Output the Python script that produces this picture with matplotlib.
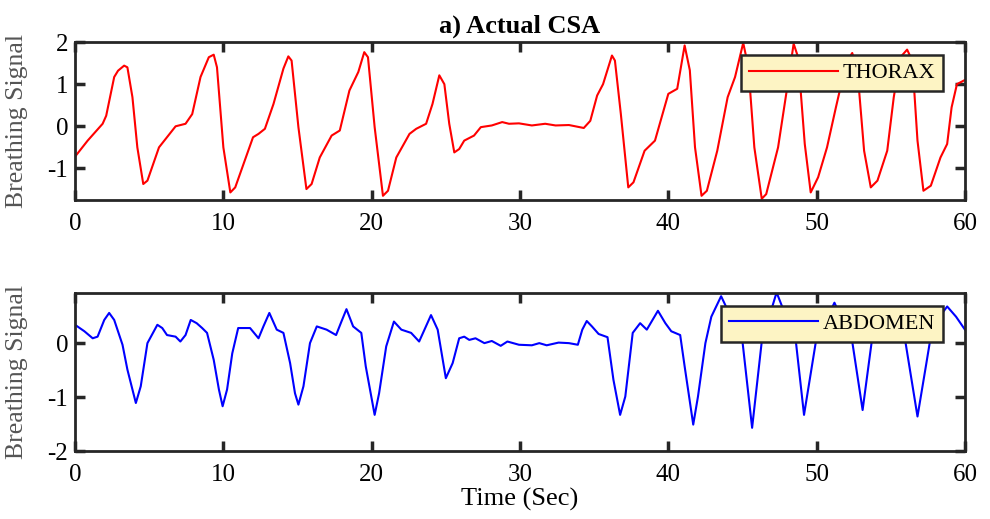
import matplotlib
matplotlib.use("Agg")
import matplotlib.pyplot as plt

# (time in seconds, signal in a.u.)
thorax_t = [0.0, 0.85, 1.86, 2.1, 2.64, 2.9, 3.31, 3.53, 3.87, 4.2, 4.6, 4.88, 5.66,
            6.78, 7.45, 7.9, 8.46, 9.02, 9.35, 9.57, 10.0, 10.47, 10.8, 12.0,
            12.37, 12.8, 13.38, 14.05, 14.38, 14.6, 15.06, 15.6, 15.95, 16.5,
            17.3, 17.85, 18.5, 19.1, 19.5, 19.75, 20.2, 20.76, 21.1, 21.66,
            22.55, 23.0, 23.67, 24.1, 24.56, 24.9, 25.23, 25.57, 25.9, 26.24,
            26.9, 27.36, 28.1, 28.8, 29.26, 29.93, 30.8, 31.7, 32.4, 33.3,
            34.3, 34.74, 35.2, 35.6, 36.2, 36.4, 36.8, 37.3, 37.65, 38.4,
            39.1, 40.0, 40.6, 41.1, 41.45, 41.8, 42.24, 42.6, 43.3, 44.0,
            44.5, 45.05, 45.4, 45.8, 46.3, 46.6, 47.4, 47.95, 48.45, 48.75,
            49.2, 49.6, 50.1, 50.7, 51.3, 52.0, 52.4, 52.75, 53.2, 53.65,
            54.1, 54.76, 55.2, 55.65, 56.1, 56.45, 56.8, 57.2, 57.7, 58.35,
            58.8, 59.1, 59.46, 60.0]
thorax_v = [-0.72, -0.34, 0.06, 0.25, 1.17, 1.32, 1.44, 1.40, 0.69, -0.5, -1.37, -1.29, -0.5,
            0.0, 0.06, 0.29, 1.17, 1.64, 1.70, 1.40, -0.5, -1.57, -1.45, -0.26,
            -0.18, -0.06, 0.53, 1.37, 1.66, 1.56, -0.02, -1.49, -1.37, -0.74,
            -0.22, -0.10, 0.85, 1.29, 1.76, 1.64, -0.02, -1.65, -1.53, -0.74,
            -0.18, -0.06, 0.06, 0.53, 1.21, 1.0, 0.06, -0.62, -0.54, -0.34,
            -0.22, -0.02, 0.02, 0.10, 0.06, 0.07, 0.02, 0.06, 0.02, 0.03,
            -0.04, 0.13, 0.73, 1.0, 1.68, 1.56, 0.29, -1.45, -1.33, -0.58,
            -0.34, 0.77, 0.89, 1.92, 1.33, -0.5, -1.65, -1.53, -0.58, 0.69,
            1.17, 1.98, 1.40, -0.5, -1.72, -1.61, -0.5, 0.77, 1.96, 1.64,
            -0.42, -1.57, -1.21, -0.5, 0.45, 1.52, 1.74, 1.33, -0.58, -1.45,
            -1.29, -0.58, 0.69, 1.64, 1.82, 1.56, -0.34, -1.53, -1.41, -0.74,
            -0.42, 0.45, 1.0, 1.1]

abdomen_t = [0.0, 0.63, 1.19, 1.52, 1.97, 2.3, 2.64, 3.2, 3.53, 4.1, 4.43, 4.88,
             5.55, 5.88, 6.2, 6.78, 7.1, 7.45, 7.8, 8.2, 8.57, 8.9, 9.35, 9.7,
             9.95, 10.25, 10.6, 11.0, 11.8, 12.37, 12.7, 13.1, 13.6, 14.05,
             14.5, 14.83, 15.06, 15.4, 15.84, 16.3, 16.96, 17.6, 17.96, 18.3,
             18.75, 19.3, 19.6, 20.2, 20.5, 20.98, 21.5, 22.0, 22.66, 23.2,
             23.56, 24.0, 24.45, 25.0, 25.46, 25.9, 26.24, 26.58, 27.0, 27.6,
             28.1, 28.7, 29.15, 29.93, 30.8, 31.3, 31.8, 32.6, 33.3, 33.9,
             34.2, 34.5, 34.85, 35.3, 35.9, 36.3, 36.75, 37.1, 37.6, 38.1,
             38.55, 39.0, 39.3, 39.8, 40.2, 40.8, 41.1, 41.68, 42.0, 42.5,
             42.9, 43.56, 45.0, 45.65, 46.3, 47.3, 48.6, 49.15, 49.95, 51.2,
             52.4, 53.1, 53.7, 54.8, 56.0, 56.8, 57.4, 57.8, 58.8, 59.4, 60.0]
abdomen_v = [0.34, 0.22, 0.09, 0.12, 0.43, 0.56, 0.43, -0.03, -0.49, -1.11, -0.80, 0.0,
             0.34, 0.28, 0.15, 0.12, 0.03, 0.15, 0.43, 0.37, 0.28, 0.19, -0.31, -0.86,
             -1.17, -0.86, -0.19, 0.28, 0.28, 0.09, 0.31, 0.56, 0.25, 0.19,
             -0.37, -0.93, -1.14, -0.80, 0.0, 0.31, 0.25, 0.15, 0.40, 0.63,
             0.31, 0.19, -0.43, -1.33, -0.93, -0.06, 0.40, 0.25, 0.19, 0.03,
             0.25, 0.52, 0.25, -0.65, -0.37, 0.09, 0.12, 0.06, 0.09, 0.0,
             0.04, -0.05, 0.03, -0.03, -0.04, 0.0, -0.04, 0.01, 0.0, -0.03,
             0.25, 0.41, 0.31, 0.17, 0.11, -0.68, -1.33, -0.99, 0.19, 0.37,
             0.25, 0.46, 0.60, 0.37, 0.22, 0.15, -0.43, -1.51, -0.99, 0.0,
             0.49, 0.87, 0.03, -1.57, 0.03, 0.94, 0.03, -1.33, 0.03, 0.75,
             0.03, -1.24, 0.0, 0.6, 0.0, -1.36, -0.37, 0.3, 0.68, 0.49, 0.25]

x_ticks = [0, 10, 20, 30, 40, 50, 60]

plt.rcParams["font.family"] = ["Liberation Serif", "DejaVu Serif"]
plt.rcParams["font.size"] = 18
plt.rcParams["axes.unicode_minus"] = False

fig = plt.figure(figsize=(9.9, 5.19), dpi=100)
ax1 = fig.add_axes([0.0758, 0.6146, 0.8989, 0.3044])
ax2 = fig.add_axes([0.0758, 0.131, 0.8989, 0.3045])


def _style(ax, ylim, yticks):
    ax.set_xlim(0, 60)
    ax.set_ylim(*ylim)
    ax.set_xticks(x_ticks)
    ax.set_yticks(yticks)
    for s in ax.spines.values():
        s.set_linewidth(2.0)
        s.set_color("#262626")
    ax.tick_params(direction="in", length=7, width=2.5, top=True, right=True,
                   labelsize=18, pad=5, color="#262626")
    ax.tick_params(axis="x", pad=9)
    ax.set_ylabel("Breathing Signal", color="#555555", fontsize=18.5)
    ax.yaxis.set_label_coords(-0.053, 0.5)


ax1.plot(thorax_t, thorax_v, color="red", linewidth=1.5, label="THORAX")
_style(ax1, (-1.75, 2.0), [-1, 0, 1, 2])
ax1.set_title("a) Actual CSA", fontweight="bold", fontsize=19, pad=7)

ax2.plot(abdomen_t, abdomen_v, color="blue", linewidth=1.5, label="ABDOMEN")
_style(ax2, (-2.0, 0.93), [-2, -1, 0])
ax2.set_xlabel("Time (Sec)", fontsize=19, labelpad=2)

for ax in (ax1, ax2):
    leg = ax.legend(loc="upper right", bbox_to_anchor=(0.975, 0.918),
                    fancybox=False, framealpha=1.0, handlelength=4.0,
                    fontsize=16, borderpad=0.35, handletextpad=0.2,
                    borderaxespad=0.0)
    leg.get_frame().set_facecolor("#fdf4c4")
    leg.get_frame().set_edgecolor("#262626")
    leg.get_frame().set_linewidth(1.8)

fig.savefig("out.png", dpi=100)
